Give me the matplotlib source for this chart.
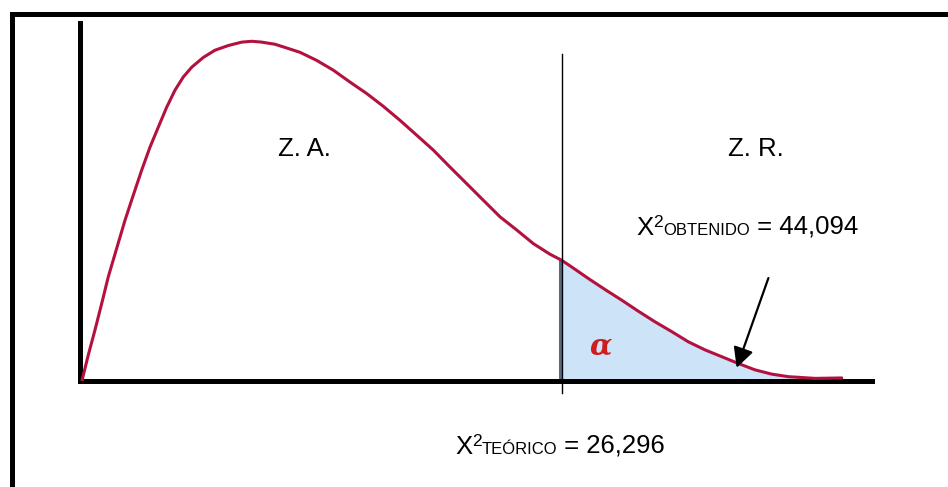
import matplotlib
matplotlib.use("Agg")
import matplotlib.pyplot as plt
from matplotlib.lines import Line2D

plt.rcParams['font.family'] = ['Liberation Sans', 'DejaVu Sans']

W, H = 948, 487   # output size in pixels

# chi-square curve, points (x in chi-square units)
chi_x = [0.0, 0.345, 0.713, 1.080, 1.442, 1.903, 2.358, 2.813, 3.274, 3.729,
         4.184, 4.645, 5.100, 5.555, 6.016, 6.652, 7.294, 8.023, 8.758, 9.306,
         9.855, 10.584, 11.314, 11.955, 12.871, 13.781, 14.697, 15.613, 16.523,
         17.439, 18.355, 19.265, 20.181, 21.097, 22.007, 22.923, 23.839,
         24.749, 25.665, 26.296, 26.855, 27.765, 28.681, 29.597, 30.507,
         31.423, 32.339, 33.249, 34.165, 35.081, 35.992, 36.907, 37.823,
         38.734, 40.198, 41.662]
dens = [0.0, 0.0060, 0.0119, 0.0181, 0.0244, 0.0311, 0.0377, 0.0436, 0.0495,
        0.0549, 0.0596, 0.0643, 0.0683, 0.0714, 0.0737, 0.0760, 0.0777,
        0.0788, 0.0796, 0.0798, 0.0796, 0.0791, 0.0781, 0.0772, 0.0753,
        0.0730, 0.0702, 0.0675, 0.0645, 0.0612, 0.0577, 0.0542, 0.0502,
        0.0463, 0.0424, 0.0385, 0.0354, 0.0322, 0.0297, 0.0283, 0.0267,
        0.0240, 0.0214, 0.0189, 0.0163, 0.0138, 0.0115, 0.0091, 0.0072,
        0.0056, 0.0040, 0.0025, 0.0015, 0.0009, 0.0005, 0.0006]

chi_teorico = 26.296
chi_obtenido = 44.094
zone_labels = ['Z. A.', 'Z. R.']

fig = plt.figure(figsize=(W / 100, H / 100), dpi=100)
fig.patch.set_facecolor('white')

# outer frame (right and bottom edges fall outside the picture)
fig.add_artist(Line2D([11.5 / W, 1.0], [1 - 13.5 / H, 1 - 13.5 / H],
                      transform=fig.transFigure, color='black', lw=3.6,
                      solid_capstyle='projecting'))
fig.add_artist(Line2D([11.5 / W, 11.5 / W], [1 - 13.5 / H, 0.0],
                      transform=fig.transFigure, color='black', lw=3.6,
                      solid_capstyle='projecting'))

ax = fig.add_axes([79.5 / W, 1 - 380.5 / H, (872 - 79.5) / W, (380.5 - 23) / H])
ax.set_xlim(-0.137, 43.32)
ax.set_ylim(0, 0.0841)
for s in ['top', 'right']:
    ax.spines[s].set_visible(False)
for s in ['left', 'bottom']:
    ax.spines[s].set_linewidth(3.6)
    ax.spines[s].set_capstyle('projecting')
ax.set_xticks([])
ax.set_yticks([])
ax.patch.set_alpha(0)

# rejection zone
tail = [x >= chi_teorico for x in chi_x]
ax.fill_between(chi_x, dens, 0, where=tail, color='#cce3f8', lw=0, zorder=1)
y_crit = dens[chi_x.index(chi_teorico)]
ax.plot([chi_teorico - 0.08, chi_teorico - 0.08], [0, y_crit], color='#566b80', lw=2.2, zorder=2)

ax.plot(chi_x, dens, color='#b3123f', lw=2.2, zorder=3, solid_capstyle='round',
        solid_joinstyle='round')

# critical value line, goes a bit below the axis
ax.plot([chi_teorico, chi_teorico], [-0.0029, 0.0768], color='black', lw=1.0,
        zorder=4, clip_on=False)

# arrow pointing to the obtained value
ax.annotate('', xy=(35.90, 0.0030), xytext=(37.64, 0.0241),
            arrowprops=dict(arrowstyle='-|>,head_length=0.55,head_width=0.28',
                            color='black', lw=1.6,
                            mutation_scale=22, shrinkA=0, shrinkB=0))

ax.text(28.46, 0.0081, '\u03b1', color='#d01c1c', fontsize=21, family='DejaVu Serif',
        style='italic', weight='bold', ha='center', va='center')

# zone labels
fig.text(304 / W, 1 - 156 / H, zone_labels[0], fontsize=18.5, ha='center', va='baseline')
fig.text(756 / W, 1 - 156 / H, zone_labels[1], fontsize=18.5, ha='center', va='baseline')


def chi_label(px, py, sub, value):
    t0 = fig.text(px / W, 1 - py / H, 'X', fontsize=18.5, va='baseline')
    t1 = ax.annotate('2', xy=(1, 0), xycoords=t0, xytext=(0, 9.7),
                     textcoords='offset points', fontsize=12.5, va='baseline', ha='left')
    t2 = ax.annotate(sub, xy=(1, 0), xycoords=t1, xytext=(0, -4.0),
                     textcoords='offset points', fontsize=12, va='baseline', ha='left')
    ax.annotate(' = ' + value, xy=(1, 0), xycoords=t2, xytext=(0, 3.2),
                textcoords='offset points', fontsize=18.5, va='baseline', ha='left')


fmt = lambda v: f'{v:.3f}'.replace('.', ',')
chi_label(636, 235, 'OBTENIDO', fmt(chi_obtenido))
chi_label(455, 454, 'TEÓRICO', fmt(chi_teorico))

fig.savefig('out.png', dpi=100)
